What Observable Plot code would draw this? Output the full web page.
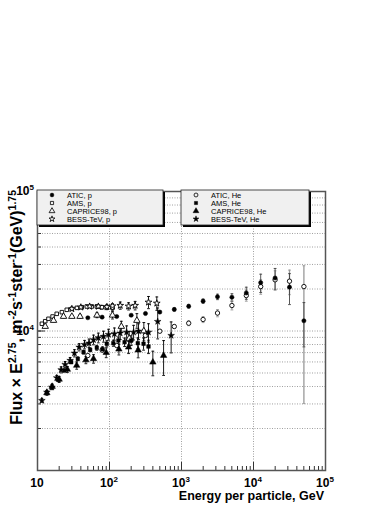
<!DOCTYPE html>
<html><head><meta charset="utf-8">
<script src="https://cdn.jsdelivr.net/npm/d3@7"></script>
<script src="https://cdn.jsdelivr.net/npm/@observablehq/plot@0.6"></script>
<style>
body{margin:0;background:#fff;}
#chart{position:relative;width:390px;height:505px;}
</style></head><body><div id="chart"></div>
<script>
// ---- data (energy per particle in GeV, flux x E^2.75) ----
const aticP_E = [50, 79, 126, 200, 316, 500, 794, 1259, 1995, 3162, 5012, 7943, 12589, 19953, 31623, 50119];
const aticP_F = [12440, 12570, 12700, 12970, 13350, 13670, 14270, 15050, 16370, 17570, 17450, 18730, 22210, 23990, 20620, 11840];
const aticP_err = [0.01, 0.01, 0.01, 0.015, 0.02, 0.02, 0.025, 0.03, 0.035, 0.045, 0.06, 0.1, 0.15, 0.17, 0.25, 0.35];

const aticHe_E = [50, 79, 126, 200, 316, 500, 794, 1259, 1995, 3162, 5012, 7943, 12589, 19953, 31623, 50119];
const aticHe_F = [6670, 7300, 7870, 8600, 9290, 9970, 10770, 11370, 12090, 13450, 15230, 17960, 20820, 23280, 22760, 20820];
const aticHe_up = [0.02, 0.02, 0.02, 0.03, 0.03, 0.03, 0.03, 0.04, 0.05, 0.06, 0.07, 0.09, 0.12, 0.16, 0.2, 0.41];
const aticHe_dn = [0.02, 0.02, 0.02, 0.03, 0.03, 0.03, 0.03, 0.04, 0.05, 0.06, 0.07, 0.09, 0.12, 0.16, 0.2, 0.855];

const amsP_E = [11.5, 12.8, 14.2, 16.2, 18.5, 21.8, 25.5, 29.9, 35.2, 41.2, 48.4, 56.8, 66.7, 78.2, 91.7, 110];
const amsP_F = [11270, 11750, 12230, 12700, 13280, 13640, 14190, 14420, 14650, 14810, 14990, 14990, 14990, 14810, 14810, 14700];
const amsP_err = [0.01, 0.01, 0.01, 0.01, 0.01, 0.01, 0.01, 0.01, 0.015, 0.015, 0.02, 0.02, 0.025, 0.03, 0.04, 0.05];

const capP_E = [12.8, 16.7, 23, 30, 39, 67, 110, 146, 188, 240, 300];
const capP_F = [10770, 11890, 12700, 12700, 12700, 12970, 12970, 10770, 8840, 11890, 10000];
const capP_err = [0.02, 0.02, 0.02, 0.02, 0.03, 0.04, 0.06, 0.09, 0.12, 0.12, 0.15];

const bessP_E = [30, 40, 53, 70, 92, 110, 141, 184, 227, 348, 454];
const bessP_F = [14420, 14800, 15000, 15000, 14900, 15100, 15230, 15050, 15230, 16070, 15800];
const bessP_err = [0.02, 0.02, 0.02, 0.03, 0.03, 0.04, 0.06, 0.06, 0.07, 0.1, 0.11];

const amsHe_E = [19.6, 23.7, 29.4, 36.3, 43.6, 53.9, 66.6, 80, 91.7, 113, 133, 162, 200, 247, 297, 348];
const amsHe_F = [4467, 5210, 5976, 6320, 7050, 7330, 7580, 7400, 8100, 8180, 8550, 8320, 8550, 8180, 8100, 7740];
const amsHe_err = [0.02, 0.02, 0.02, 0.03, 0.03, 0.03, 0.04, 0.04, 0.05, 0.05, 0.06, 0.07, 0.08, 0.09, 0.1, 0.11];

const capHe_E = [13.5, 16, 20, 26, 35, 47, 60, 90, 135, 184, 250, 400, 564];
const capHe_F = [3600, 4000, 4500, 5300, 5660, 6200, 6320, 7000, 7400, 7656, 7300, 5970, 6670];
const capHe_err = [0.04, 0.04, 0.05, 0.05, 0.06, 0.06, 0.07, 0.08, 0.09, 0.1, 0.12, 0.2, 0.28];

const bessHe_E = [11.5, 13.5, 15.8, 18.5, 21.3, 24.2, 28.4, 32.6, 37.9, 45, 52, 60, 70, 82.5, 97, 117, 141, 173, 216, 253, 348, 467, 718];
const bessHe_F = [3175, 3642, 3954, 4617, 5270, 5754, 6150, 6935, 7656, 8000, 8180, 8650, 8940, 9140, 9440, 9550, 9650, 9800, 9800, 9970, 9800, 11700, 9290];
const bessHe_err = [0.03, 0.03, 0.04, 0.04, 0.05, 0.05, 0.05, 0.06, 0.06, 0.07, 0.07, 0.08, 0.08, 0.09, 0.09, 0.1, 0.1, 0.11, 0.12, 0.13, 0.15, 0.25, 0.25];

const xMajor = [10, 100, 1000, 10000, 100000];
const xMinor = [20,30,40,50,60,70,80,90,200,300,400,500,600,700,800,900,2000,3000,4000,5000,6000,7000,8000,9000,20000,30000,40000,50000,60000,70000,80000,90000];
const xGrid = [100, 1000, 10000];
const yMajor = [1000, 10000, 100000];
const yGrid = [2000,3000,4000,5000,6000,7000,8000,9000,10000,20000,30000,40000,50000,60000,70000,80000,90000];
const xTickLabels = [["10",""],["10","2"],["10","3"],["10","4"],["10","5"]];
const yTickLabels = [[10000,"10","4"],[100000,"10","5"]];
const legendLeft = ["ATIC, p", "AMS, p", "CAPRICE98, p", "BESS-TeV, p"];
const legendRight = ["ATIC, He", "AMS, He", "CAPRICE98, He", "BESS-TeV, He"];

// ---- build series ----
function rows(E, F, up, dn) {
  return E.map((e, i) => ({E: e, F: F[i], lo: F[i] * (1 - dn[i]), hi: F[i] * (1 + up[i])}));
}
const series = [
  {label: "ATIC, He", data: rows(aticHe_E, aticHe_F, aticHe_up, aticHe_dn), symbol: "circle", filled: false, r: 2.2, err: "#999"},
  {label: "ATIC, p", data: rows(aticP_E, aticP_F, aticP_err, aticP_err), symbol: "circle", filled: true, r: 2.1, err: "#444"},
  {label: "AMS, p", data: rows(amsP_E, amsP_F, amsP_err, amsP_err), symbol: "square", filled: false, r: 2.0, err: "#000"},
  {label: "CAPRICE98, p", data: rows(capP_E, capP_F, capP_err, capP_err), symbol: "triangle", filled: false, r: 2.4, err: "#000"},
  {label: "BESS-TeV, p", data: rows(bessP_E, bessP_F, bessP_err, bessP_err), symbol: "star", filled: false, r: 2.1, err: "#000"},
  {label: "AMS, He", data: rows(amsHe_E, amsHe_F, amsHe_err, amsHe_err), symbol: "square", filled: true, r: 2.0, err: "#000"},
  {label: "CAPRICE98, He", data: rows(capHe_E, capHe_F, capHe_err, capHe_err), symbol: "triangle", filled: true, r: 2.4, err: "#000"},
  {label: "BESS-TeV, He", data: rows(bessHe_E, bessHe_F, bessHe_err, bessHe_err), symbol: "star", filled: true, r: 2.1, err: "#000"}
];

const capSymbol = {draw(ctx, size) { const w = Math.sqrt(size / Math.PI); ctx.moveTo(-w, 0); ctx.lineTo(w, 0); }};

const errMarks = series.flatMap(s => [
  Plot.ruleX(s.data, {x: "E", y1: "lo", y2: "hi", stroke: s.err, strokeWidth: s.err === "#999" ? 1.3 : 0.9}),
  Plot.dot(s.data, {x: "E", y: "lo", symbol: capSymbol, r: 1.4, stroke: s.err, strokeWidth: 0.9}),
  Plot.dot(s.data, {x: "E", y: "hi", symbol: capSymbol, r: 1.4, stroke: s.err, strokeWidth: 0.9})
]);
const dotMarks = series.map(s => Plot.dot(s.data, {
  x: "E", y: "F", symbol: s.symbol, r: s.r,
  fill: s.filled ? "#000" : "#fff", stroke: "#000", strokeWidth: s.filled ? 0.5 : 0.9
}));

const plot = Plot.plot({
  width: 390, height: 505,
  marginLeft: 37, marginRight: 65, marginTop: 191, marginBottom: 35,
  style: {fontFamily: "'Liberation Sans', Arial, sans-serif", background: "#fff", overflow: "visible"},
  x: {type: "log", domain: [10, 1e5], label: null},
  y: {type: "log", domain: [1e3, 1e5], label: null},
  marks: [
    Plot.gridY(yGrid, {stroke: "#888", strokeOpacity: 1, strokeDasharray: "1,1.5", strokeWidth: 0.8}),
    Plot.gridX(xGrid, {stroke: "#888", strokeOpacity: 1, strokeDasharray: "1,1.5", strokeWidth: 0.8}),
    ...errMarks,
    ...dotMarks,
    Plot.axisX(xMajor, {anchor: "bottom", tickSize: -8, tickFormat: () => "", label: null, stroke: "#333"}),
    Plot.axisX(xMinor, {anchor: "bottom", tickSize: -4, tickFormat: () => "", label: null, stroke: "#333"}),
    Plot.axisY(yMajor, {anchor: "left", tickSize: -8, tickFormat: () => "", label: null, stroke: "#333"}),
    Plot.axisY(yGrid, {anchor: "left", tickSize: -4, tickFormat: () => "", label: null, stroke: "#333"}),
    Plot.frame({stroke: "#555", strokeWidth: 1.5})
  ]
});
document.getElementById("chart").appendChild(plot);

// ---- labels, titles, legend ----
const svg = d3.select(plot);
const sx = plot.scale("x"), sy = plot.scale("y");
const g = svg.append("g").attr("font-family", "'Liberation Sans', Arial, sans-serif").attr("fill", "#000");

xTickLabels.forEach(([b, e], i) => {
  const t = g.append("text").attr("x", sx.apply(xMajor[i])).attr("y", 487)
    .attr("text-anchor", "middle").attr("font-size", 12).attr("font-weight", "bold");
  t.append("tspan").text(b);
  if (e) t.append("tspan").attr("dy", -5).attr("font-size", 8).text(e);
});
yTickLabels.forEach(([v, b, e]) => {
  const t = g.append("text").attr("x", 34).attr("y", sy.apply(v) + 4)
    .attr("text-anchor", "end").attr("font-size", 12).attr("font-weight", "bold");
  t.append("tspan").text(b);
  t.append("tspan").attr("dy", -5).attr("font-size", 8).text(e);
});

// x title
g.append("text").attr("x", 324).attr("y", 500).attr("text-anchor", "end")
  .attr("font-size", 12.5).attr("font-weight", "bold").text("Energy per particle, GeV");

// y title (rotated)
const yt = g.append("text").attr("transform", "rotate(-90)").attr("x", -190).attr("y", 22)
  .attr("text-anchor", "end").attr("font-size", 16).attr("font-weight", "bold");
const parts = [["Flux × E", 0], ["2.75", 1], [", m", 0], ["-2", 1], ["s", 0], ["-1", 1], ["ster", 0], ["-1", 1], ["(GeV)", 0], ["1.75", 1]];
let up = false;
parts.forEach(([txt, sup]) => {
  const ts = yt.append("tspan").text(txt);
  if (sup && !up) { ts.attr("dy", -6.5).attr("font-size", 10.5); up = true; }
  else if (sup) { ts.attr("font-size", 10.5); }
  else if (up) { ts.attr("dy", 6.5); up = false; }
});

function legendBox(x0, y0, w, h, labels, syms) {
  g.append("rect").attr("x", x0 + 2).attr("y", y0 + 2).attr("width", w).attr("height", h).attr("fill", "#000");
  g.append("rect").attr("x", x0).attr("y", y0).attr("width", w).attr("height", h)
    .attr("fill", "#f0f0f0").attr("stroke", "#222").attr("stroke-width", 0.8);
  labels.forEach((lab, i) => {
    const s = syms[i];
    const cy = y0 + 5 + i * 8;
    const type = {circle: d3.symbolCircle, square: d3.symbolSquare, triangle: d3.symbolTriangle, star: d3.symbolStar}[s.symbol];
    g.append("path").attr("d", d3.symbol(type, s.r * s.r * Math.PI * 0.8)())
      .attr("transform", `translate(${x0 + 15},${cy})`)
      .attr("fill", s.filled ? "#000" : "none").attr("stroke", "#000").attr("stroke-width", s.filled ? 0.5 : 0.8);
    g.append("text").attr("x", x0 + 30).attr("y", cy + 2.6).attr("text-anchor", "start")
      .attr("font-size", 7.5).attr("fill", "#000").text(lab);
  });
}
const byLabel = Object.fromEntries(series.map(s => [s.label, s]));
legendBox(37, 190, 126, 35, legendLeft, legendLeft.map(l => byLabel[l]));
legendBox(181, 190, 128, 35, legendRight, legendRight.map(l => byLabel[l]));
</script></body></html>
